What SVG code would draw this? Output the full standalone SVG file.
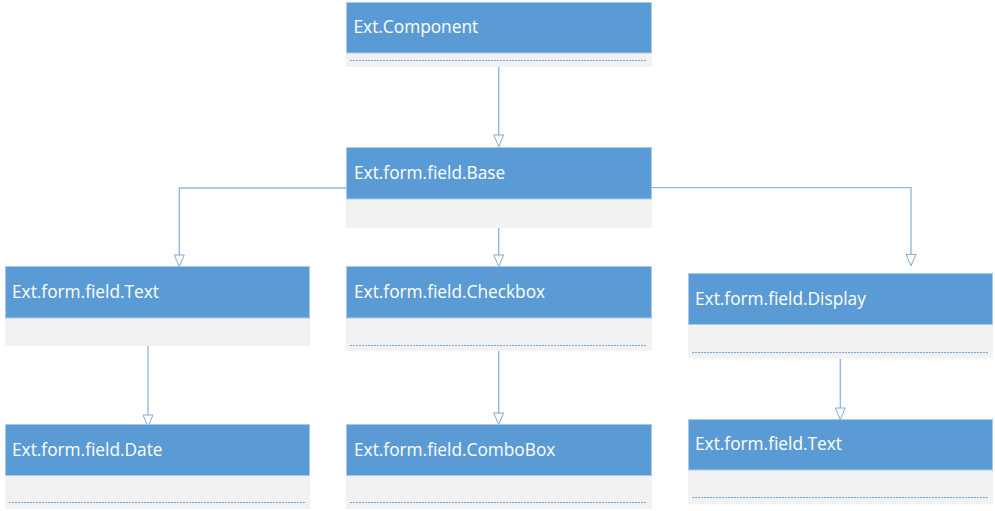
<svg xmlns="http://www.w3.org/2000/svg" width="995" height="511" viewBox="0 0 995 511">
<style>
.hd{fill:#5B9BD5;stroke:#A9C9EA;stroke-width:1}
.bd{fill:#F2F2F2}
.dot{stroke:#5B9BD5;stroke-width:1.2;stroke-dasharray:2 1;fill:none;opacity:0.85}
.lbl{font-family:"Open Sans","Liberation Sans",sans-serif;font-size:17.3px;fill:#FFFFFF}
.con{fill:none;stroke:#8FB6E0;stroke-width:1.3}
</style>
<g id="connectors">
<path class="con" d="M498.7,67 V147"/>
<path class="con" d="M346,188 H179.3 V266.5"/>
<path class="con" d="M498.7,228 V266.5"/>
<path class="con" d="M652,187.7 H911 V265.7"/>
<path class="con" d="M148,342 V426.5"/>
<path class="con" d="M498.7,351 V424.5"/>
<path class="con" d="M840.3,359 V419.5"/>
<g id="arrows" fill="#FFFFFF" stroke="#7FAADB" stroke-width="1">
<path d="M493.7,135 H503.7 L498.7,146.5 Z"/>
<path d="M174.3,255 H184.3 L179.3,266.5 Z"/>
<path d="M493.7,255 H503.7 L498.7,266.5 Z"/>
<path d="M906,254.5 H916 L911,265.7 Z"/>
<path d="M143,415 H153 L148,426.5 Z"/>
<path d="M493.7,413 H503.7 L498.7,424.5 Z"/>
<path d="M835.3,408 H845.3 L840.3,419.5 Z"/>
</g>
</g>
<g id="component">
<rect class="bd" x="346" y="53" width="306" height="14"/>
<rect class="hd" x="346.5" y="2.5" width="305" height="50.5"/>
<line class="dot" x1="350" y1="60.5" x2="647" y2="60.5"/>
<text class="lbl" x="353.5" y="33">Ext.Component</text>
</g>
<g id="base">
<rect class="bd" x="346" y="199" width="306" height="29"/>
<rect class="hd" x="346.5" y="147.5" width="305" height="51.5"/>
<text class="lbl" x="354" y="179">Ext.form.field.Base</text>
</g>
<g id="text1">
<rect class="bd" x="5" y="318" width="305" height="28"/>
<rect class="hd" x="5.5" y="266.5" width="304" height="51.5"/>
<text class="lbl" x="12" y="298">Ext.form.field.Text</text>
</g>
<g id="checkbox">
<rect class="bd" x="346" y="318" width="306" height="33"/>
<rect class="hd" x="346.5" y="266.5" width="305" height="51.5"/>
<line class="dot" x1="350" y1="345.5" x2="647" y2="345.5"/>
<text class="lbl" x="354" y="298">Ext.form.field.Checkbox</text>
</g>
<g id="display">
<rect class="bd" x="688" y="324.5" width="305" height="34"/>
<rect class="hd" x="688.5" y="273.5" width="304" height="51"/>
<line class="dot" x1="692" y1="352.5" x2="989" y2="352.5"/>
<text class="lbl" x="695" y="305">Ext.form.field.Display</text>
</g>
<g id="date">
<rect class="bd" x="5" y="475.5" width="305" height="33.5"/>
<rect class="hd" x="5.5" y="424.5" width="304" height="51"/>
<line class="dot" x1="9" y1="502.5" x2="306" y2="502.5"/>
<text class="lbl" x="12" y="456">Ext.form.field.Date</text>
</g>
<g id="combobox">
<rect class="bd" x="346" y="475.5" width="306" height="33.5"/>
<rect class="hd" x="346.5" y="424.5" width="305" height="51"/>
<line class="dot" x1="350" y1="502.5" x2="647" y2="502.5"/>
<text class="lbl" x="354" y="456">Ext.form.field.ComboBox</text>
</g>
<g id="text2">
<rect class="bd" x="688" y="470" width="305" height="34.5"/>
<rect class="hd" x="688.5" y="419.5" width="304" height="50.5"/>
<line class="dot" x1="692" y1="497.5" x2="989" y2="497.5"/>
<text class="lbl" x="695" y="450">Ext.form.field.Text</text>
</g>
</svg>
